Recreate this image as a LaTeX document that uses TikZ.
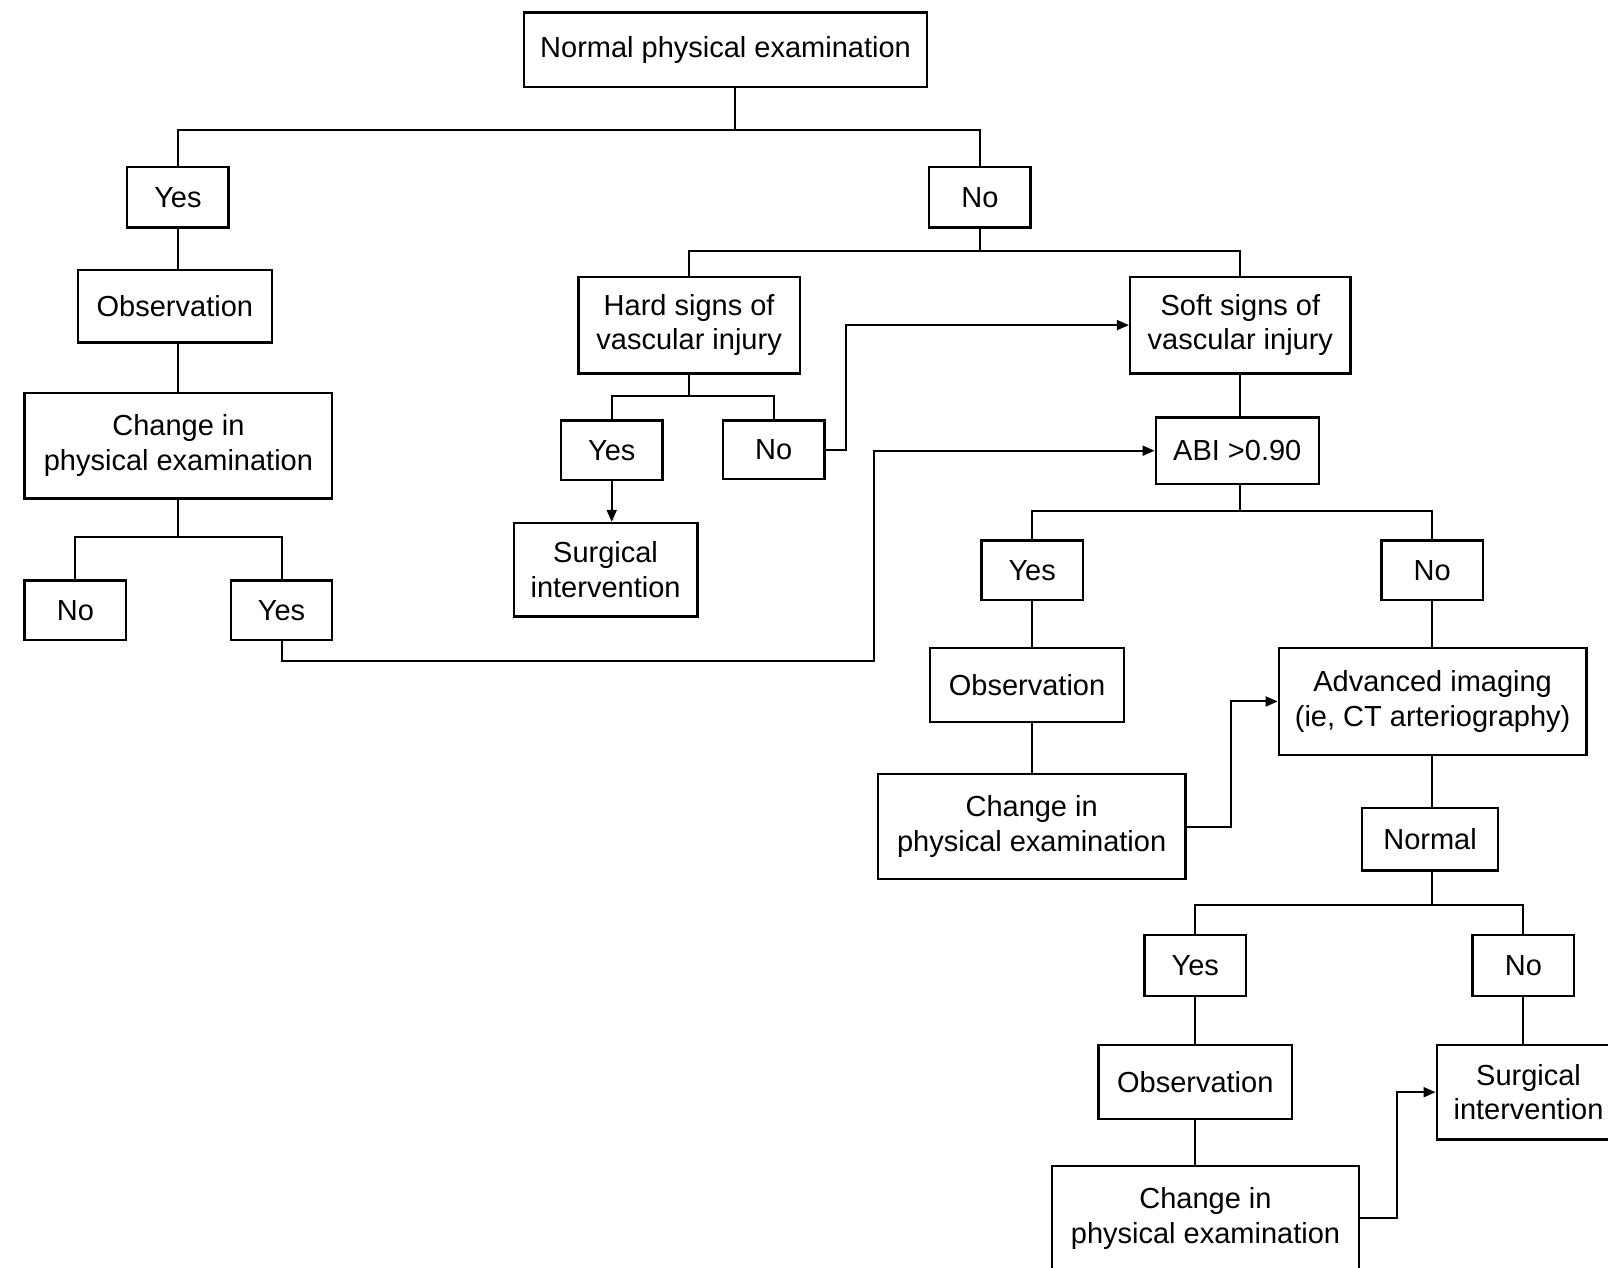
\documentclass[tikz,border=0pt]{standalone}
\usepackage{fontspec}
\setmainfont{Liberation Sans}
\usetikzlibrary{arrows.meta}
\newcommand\fs{\fontsize{14.5}{17.4}\selectfont}
\tikzset{
  box/.style={draw, line width=1.2pt, align=center, inner sep=0pt, font=\fs},
  sz/.style n args={2}{minimum width=#1*0.5128pt, minimum height=#2*0.5128pt},
  ln/.style={line width=1pt},
  arr/.style={line width=1pt, -{Triangle[length=6pt,width=5pt]}}
}
\begin{document}
\begin{tikzpicture}[x=0.5128pt,y=-0.5128pt]
\useasboundingbox (0,0) rectangle (1568,1236);
\clip (0,0) rectangle (1568,1236);
% nodes
\node[box,sz={393}{73}] (root) at (707.5,48.5) {Normal physical examination};
\node[box,sz={99}{59}] (y1) at (173.5,192.5) {Yes};
\node[box,sz={99}{59}] (n1) at (955.5,192.5) {No};
\node[box,sz={189}{71}] (obs1) at (170.5,298.5) {Observation};
\node[box,sz={300}{103}] (chg1) at (174,434.5) {Change in\\physical examination};
\node[box,sz={99}{58}] (n2) at (73.5,595) {No};
\node[box,sz={99}{58}] (y2) at (274.5,595) {Yes};
\node[box,sz={216}{94}] (hard) at (672,317) {Hard signs of\\vascular injury};
\node[box,sz={215}{94}] (soft) at (1209.5,317) {Soft signs of\\vascular injury};
\node[box,sz={99}{58}] (y3) at (596.5,439) {Yes};
\node[box,sz={99}{57}] (n3) at (754.5,438.5) {No};
\node[box,sz={179}{91}] (surg1) at (590.5,555.5) {Surgical\\intervention};
\node[box,sz={159}{65}] (abi) at (1206.5,439.5) {ABI >0.90};
\node[box,sz={99}{58}] (y4) at (1006.5,556) {Yes};
\node[box,sz={99}{58}] (n4) at (1396.5,556) {No};
\node[box,sz={189}{72}] (obs2) at (1001.5,668) {Observation};
\node[box,sz={300}{102}] (chg2) at (1006,806) {Change in\\physical examination};
\node[box,sz={300}{104}] (adv) at (1397,684) {Advanced imaging\\(ie, CT arteriography)};
\node[box,sz={133}{61}] (norm) at (1394.5,818.5) {Normal};
\node[box,sz={99}{59}] (y5) at (1165.5,941.5) {Yes};
\node[box,sz={99}{59}] (n5) at (1485.5,941.5) {No};
\node[box,sz={189}{72}] (obs3) at (1165.5,1055) {Observation};
\node[box,sz={299}{102}] (chg3) at (1175.5,1188) {Change in\\physical examination};
\node[box,sz={179}{92}] (surg2) at (1490.5,1065) {Surgical\\intervention};
% junctions
\coordinate (j1) at (717,127);
\coordinate (j2) at (174,524);
\coordinate (j3) at (955.5,245);
\coordinate (j4) at (672,386);
\coordinate (j5) at (1209.5,498);
\coordinate (j6) at (1396.5,882);
% connectors
\draw[ln] (root.south -| j1) -- (j1);
\draw[ln] (y1.north) |- (j1) -| (n1.north);
\draw[ln] (y1.south) -- (y1.south |- obs1.north);
\draw[ln] (y1.south |- obs1.south) -- (y1.south |- chg1.north);
\draw[ln] (chg1.south) -- (j2);
\draw[ln] (n2.north) |- (j2) -| (y2.north);
\draw[arr] (y2.south) |- (852,645) |- (abi.west);
\draw[ln] (n1.south) -- (j3);
\draw[ln] (hard.north) |- (j3) -| (soft.north);
\draw[ln] (hard.south) -- (j4);
\draw[ln] (y3.north) |- (j4) -| (n3.north);
\draw[arr] (y3.south) -- (y3.south |- surg1.north);
\draw[arr] (n3.east) -- (825,438.5) |- (soft.west);
\draw[ln] (soft.south) -- (soft.south |- abi.north);
\draw[ln] (soft.south |- abi.south) -- (j5);
\draw[ln] (y4.north) |- (j5) -| (n4.north);
\draw[ln] (y4.south) -- (y4.south |- obs2.north);
\draw[ln] (y4.south |- obs2.south) -- (y4.south |- chg2.north);
\draw[arr] (chg2.east) -- (1200,806) |- (adv.west);
\draw[ln] (n4.south) -- (n4.south |- adv.north);
\draw[ln] (n4.south |- adv.south) -- (n4.south |- norm.north);
\draw[ln] (n4.south |- norm.south) -- (j6);
\draw[ln] (y5.north) |- (j6) -| (n5.north);
\draw[ln] (y5.south) -- (y5.south |- obs3.north);
\draw[ln] (y5.south |- obs3.south) -- (y5.south |- chg3.north);
\draw[ln] (n5.south) -- (n5.south |- surg2.north);
\draw[arr] (chg3.east) -- (1362,1188) |- (surg2.west);
\end{tikzpicture}
\end{document}
